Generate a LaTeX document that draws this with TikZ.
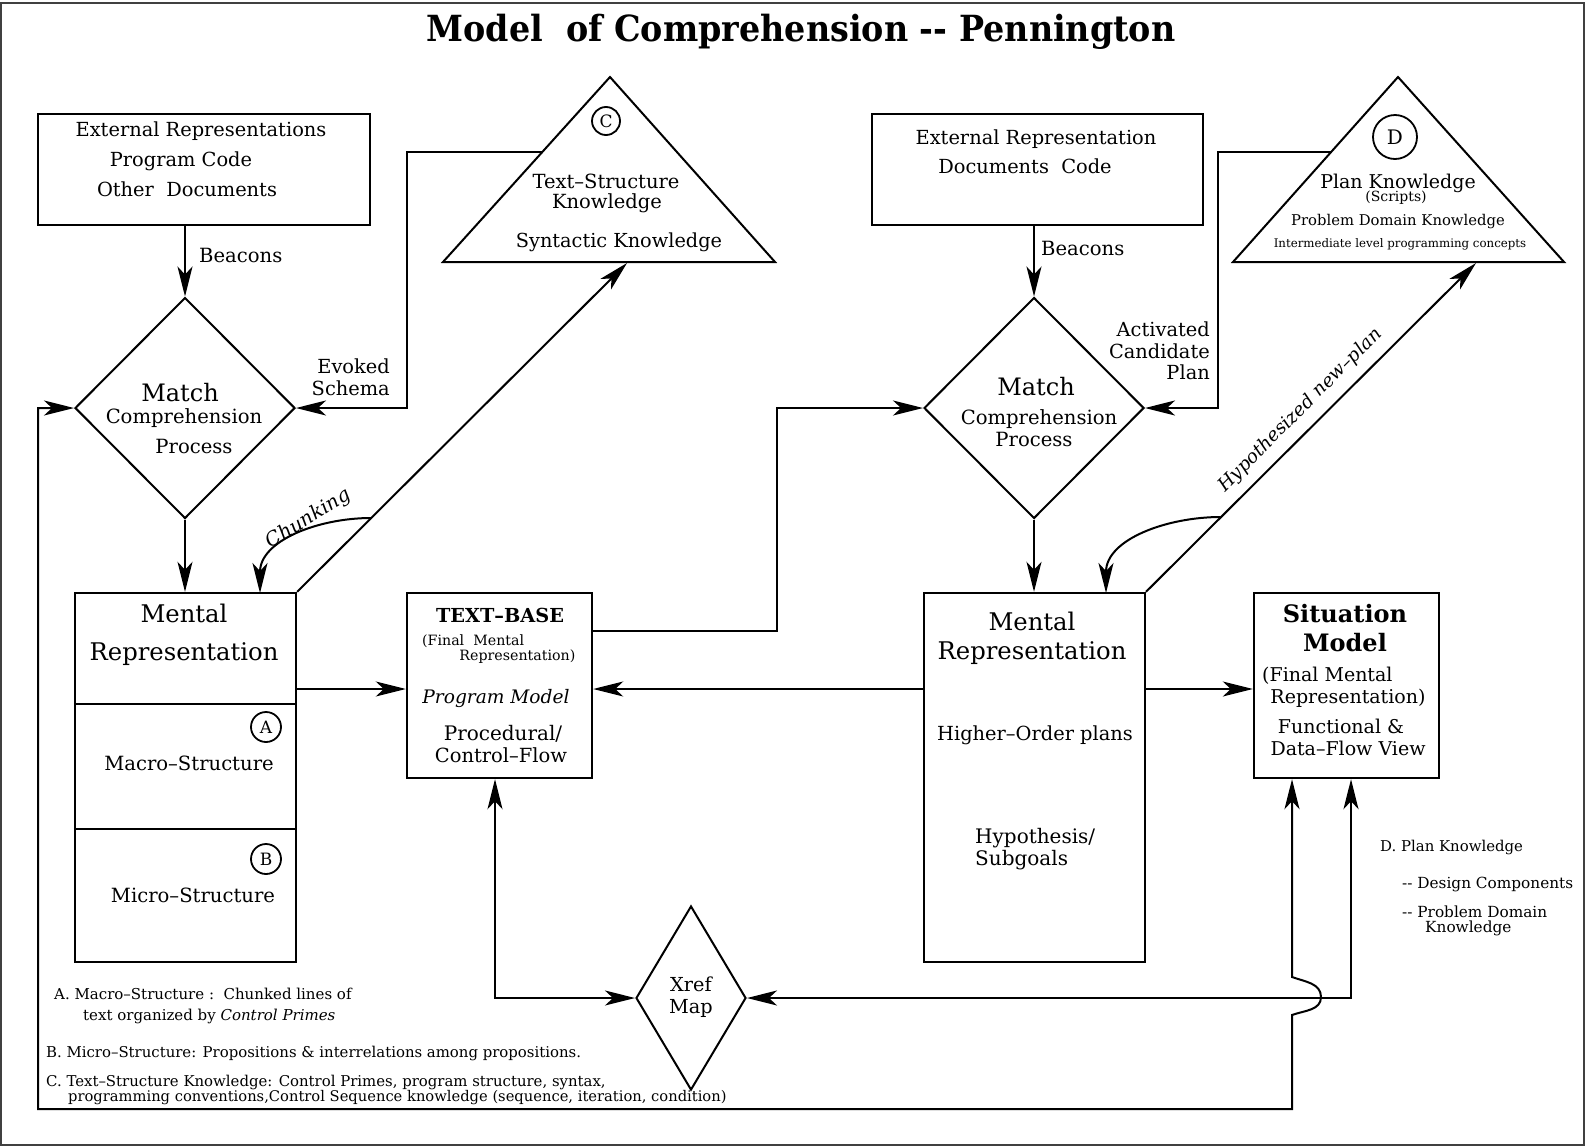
\documentclass[tikz,border=0pt]{standalone}
\usepackage{fontspec}
\setmainfont{DejaVu Serif}
\newfontfamily\titlefont[FakeStretch=0.927]{DejaVu Serif}
\usetikzlibrary{arrows.meta,shapes.geometric}
\newcommand\myfs[1]{\fontsize{#1}{#1}\selectfont}
\begin{document}
\begin{tikzpicture}[x=1pt,y=-1pt,
  >={Stealth[length=30pt,width=15pt,inset=8pt]},
  conn/.style={line width=2pt},
  boxnode/.style={draw,line width=2.4pt,rectangle,inner sep=0pt},
  diam/.style={draw,line width=2pt,diamond,inner sep=0pt},
  tc/.style={inner sep=0pt,anchor=base},
  tl/.style={inner sep=0pt,anchor=base west},
  tr/.style={inner sep=0pt,anchor=base east},
  tm/.style={inner sep=0pt,anchor=mid},
  lettercirc/.style={circle,draw,line width=1.8pt,inner sep=0pt}
]
\useasboundingbox (0,0) rectangle (1590,1146);
\draw[line width=1.6pt,black!75] (1,3) rectangle (1584,1145);

% title
\node[tc,font=\titlefont\bfseries\myfs{36}] (title) at (801,41.7) {Model\ \ of Comprehension -{}- Pennington};

% boxes
\node[boxnode,minimum width=332pt,minimum height=111pt] (ext1) at (204,169.5) {};
\node[boxnode,minimum width=331pt,minimum height=111pt] (ext2) at (1037.5,169.5) {};
\node[boxnode,minimum width=221pt,minimum height=369pt] (mr1) at (185.5,777.5) {};
\node[boxnode,minimum width=185pt,minimum height=185pt] (tb) at (499.5,685.5) {};
\node[boxnode,minimum width=221pt,minimum height=369pt] (mr2) at (1034.3,777.5) {};
\node[boxnode,minimum width=185pt,minimum height=185pt] (sit) at (1346.5,685.5) {};
\draw[line width=2.4pt] (mr1.west |- 0,704) -- (mr1.east |- 0,704);
\draw[line width=2.4pt] (mr1.west |- 0,829) -- (mr1.east |- 0,829);

% diamonds
\node[diam,minimum width=220pt,minimum height=221pt] (m1) at (185,408) {};
\node[diam,minimum width=220pt,minimum height=221pt] (m2) at (1034,408) {};
\node[diam,minimum width=110pt,minimum height=184pt] (xref) at (691,998) {};

% triangles
\coordinate (cA) at (610,77);
\coordinate (cBL) at (443,262);
\coordinate (cBR) at (775,262);
\draw[line width=2pt,line join=miter] (cBL) -- (cA) -- (cBR) -- cycle;
\coordinate (dA) at (1398,77);
\coordinate (dBL) at (1233,262);
\coordinate (dBR) at (1564,262);
\draw[line width=2pt,line join=miter] (dBL) -- (dA) -- (dBR) -- cycle;

% letter circles
\node[lettercirc,minimum size=28pt,font=\myfs{17}] (circC) at (606,121) {C};
\node[lettercirc,minimum size=44pt,font=\myfs{20}] (circD) at (1395,137) {D};
\node[lettercirc,minimum size=30pt,font=\myfs{17}] (circA) at (266,727) {A};
\node[lettercirc,minimum size=30pt,font=\myfs{17}] (circB) at (266,859) {B};

% connector anchor points
\coordinate (cL) at (542,152);
\coordinate (cTip) at (627,263);
\coordinate (dL) at (1331,152);
\coordinate (dTip) at (1476,263);
\coordinate (chS) at (371,518);
\coordinate (chE) at (260,593);
\coordinate (hyS) at (1220.7,517);
\coordinate (hyE) at (1106,593);
\coordinate (yrow) at (0,689);

% connectors
\draw[conn,->] (ext1.south -| m1.north) -- (m1.north);
\draw[conn,->] (cL) -- ++(-135,0) |- (m1.east);
\draw[conn,->] (m1.south) -- (m1.south |- mr1.north);
\draw[conn,->] (mr1.north east) -- (cTip);
\draw[conn,->] (chS) to[out=180,in=90] (chE);
\draw[conn,->] (mr1.east |- yrow) -- (tb.west |- yrow);
\draw[conn,->] ([yshift=54.5pt]tb.east) -- ++(184,0) |- (m2.west);
\draw[conn,->] (ext2.south -| m2.north) -- (m2.north);
\draw[conn,->] (dL) -- ++(-113,0) |- (m2.east);
\draw[conn,->] (m2.south) -- (m2.south |- mr2.north);
\draw[conn,->] (mr2.north east) -- (dTip);
\draw[conn,->] (hyS) to[out=180,in=90] (hyE);
\draw[conn,->] (mr2.west |- yrow) -- (tb.east |- yrow);
\draw[conn,->] (mr2.east |- yrow) -- (sit.west |- yrow);
\draw[conn,<->] ([xshift=-4.5pt]tb.south) |- (xref.west);
\draw[conn,<->] ([xshift=4.5pt]sit.south) |- (xref.east);
\draw[conn,<->] ([xshift=-54.5pt]sit.south) -- (1292,977) to[out=-20,in=90] (1321,997) to[out=-90,in=20] (1292,1015) -- (1292,1109) -- (38,1109) |- (m1.west);

% texts: external boxes
\node[tc,font=\myfs{19.4}] (e1a) at (201,136.7) {External Representations};
\node[tc,font=\myfs{19.4}] (e1b) at (181,166) {Program Code};
\node[tc,font=\myfs{19.4}] (e1c) at (187,196) {Other\ \ Documents};
\node[tl,font=\myfs{19.6}] (bea1) at (199,262) {Beacons};
\node[tc,font=\myfs{19.4}] (e2a) at (1036,144) {External Representation};
\node[tc,font=\myfs{19.4}] (e2b) at (1025,173) {Documents\ \ Code};
\node[tl,font=\myfs{19.6}] (bea2) at (1041,255) {Beacons};

% match diamonds
\node[tc,font=\myfs{24}] (m1a) at (180,401.7) {Match};
\node[tc,font=\myfs{19.6}] (m1b) at (184,423.5) {Comprehension};
\node[tc,font=\myfs{19.6}] (m1c) at (194,453) {Process};
\node[tr,font=\myfs{19.4}] (ev1) at (390,373) {Evoked};
\node[tr,font=\myfs{19.4}] (ev2) at (390,395) {Schema};
\node[tc,font=\myfs{24}] (m2a) at (1036,395) {Match};
\node[tc,font=\myfs{19.6}] (m2b) at (1039,424) {Comprehension};
\node[tc,font=\myfs{19.6}] (m2c) at (1034,446) {Process};
\node[tr,font=\myfs{19.4}] (ac1) at (1210,336) {Activated};
\node[tr,font=\myfs{19.4}] (ac2) at (1210,358) {Candidate};
\node[tr,font=\myfs{19.4}] (ac3) at (1210,379) {Plan};

% triangles text
\node[tc,font=\myfs{19.5}] (tc1) at (606,188) {Text--Structure};
\node[tc,font=\myfs{19.5}] (tc2) at (607,208) {Knowledge};
\node[tc,font=\myfs{19.3}] (tc3) at (619,247) {Syntactic Knowledge};
\node[tc,font=\myfs{19}] (td1) at (1398,188) {Plan Knowledge};
\node[tc,font=\myfs{14}] (td2) at (1396,201) {(Scripts)};
\node[tc,font=\myfs{14.8}] (td3) at (1398,225) {Problem\ Domain\ Knowledge};
\node[tc,font=\myfs{11.8}] (td4) at (1400,247) {Intermediate level programming concepts};

% rotated labels
\node[tm,font=\itshape\myfs{19.5},rotate=32] (chunk) at (310,521) {Chunking};
\node[tm,font=\itshape\myfs{18.5},rotate=45] (hypo) at (1302,412) {Hypothesized new--plan};

% mental representation 1
\node[tc,font=\myfs{24.3}] (mr1a) at (184,622.7) {Mental};
\node[tc,font=\myfs{24.3}] (mr1b) at (184,660) {Representation};
\node[tc,font=\myfs{19.6}] (mr1c) at (189,770.7) {Macro--Structure};
\node[tc,font=\myfs{19.6}] (mr1d) at (193,902.7) {Micro--Structure};

% text-base
\node[tc,font=\bfseries\myfs{19.3}] (tb1) at (500,622.7) {TEXT--BASE};
\node[tl,font=\myfs{14.2}] (tb2) at (422,645) {(Final\ \ Mental};
\node[tr,font=\myfs{14.2}] (tb3) at (575.5,660) {Representation)};
\node[tc,font=\itshape\myfs{18.6}] (tb4) at (496,703) {Program Model};
\node[tc,font=\myfs{20}] (tb5) at (503,740.7) {Procedural/};
\node[tc,font=\myfs{19.5}] (tb6) at (501,762.7) {Control--Flow};

% mental representation 2
\node[tc,font=\myfs{24.3}] (mr2a) at (1032,630) {Mental};
\node[tc,font=\myfs{24.3}] (mr2b) at (1032,659) {Representation};
\node[tc,font=\myfs{19.4}] (mr2c) at (1035,740.7) {Higher--Order plans};
\node[tl,font=\myfs{20}] (mr2d) at (975,843) {Hypothesis/};
\node[tl,font=\myfs{20}] (mr2e) at (975,865) {Subgoals};

% situation model
\node[tc,font=\bfseries\myfs{24}] (s1) at (1345,622.7) {Situation};
\node[tc,font=\bfseries\myfs{24}] (s2) at (1345,651.7) {Model};
\node[tl,font=\myfs{19}] (s3) at (1262,681.7) {(Final Mental};
\node[tc,font=\myfs{19}] (s4) at (1348,703) {Representation)};
\node[tc,font=\myfs{19}] (s5) at (1341,733) {Functional \&};
\node[tc,font=\myfs{19}] (s6) at (1348,755) {Data--Flow View};

% xref
\node[tc,font=\myfs{19.3}] (x1) at (691,991.7) {Xref};
\node[tc,font=\myfs{19.3}] (x2) at (691,1013) {Map};

% footnotes
\node[tl,font=\myfs{15}] (fa1) at (54,999) {A. Macro--Structure :\ \ Chunked lines of};
\node[tl,font=\myfs{15}] (fa2) at (83,1020.7) {text organized by \textit{Control Primes}};
\node[tl,font=\myfs{14.9}] (fb) at (46,1057.7) {B. Micro--Structure: Propositions \& interrelations among propositions.};
\node[tl,font=\myfs{14.9}] (fc1) at (46,1086.7) {C. Text--Structure Knowledge: Control Primes, program structure, syntax,};
\node[tl,font=\myfs{14.7}] (fc2) at (68,1101.7) {programming conventions,Control Sequence knowledge (sequence, iteration, condition)};
\node[tl,font=\myfs{14.9}] (fd1) at (1380,851.7) {D. Plan Knowledge};
\node[tl,font=\myfs{15.3}] (fd2) at (1402,888) {-{}- Design Components};
\node[tl,font=\myfs{15.3}] (fd3) at (1402,917) {-{}- Problem Domain};
\node[tl,font=\myfs{15.3}] (fd4) at (1425,932) {Knowledge};
\end{tikzpicture}
\end{document}
